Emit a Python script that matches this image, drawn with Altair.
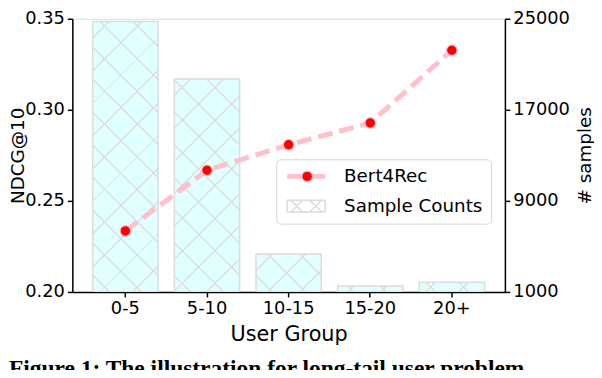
import altair as alt
import pandas as pd

groups = ["0-5", "5-10", "10-15", "15-20", "20+"]
ndcg = [0.2335, 0.2668, 0.2808, 0.2928, 0.3327]
counts = [24750, 19700, 4330, 1530, 1860]
series_names = ["Bert4Rec", "Sample Counts"]
left_ticks = [0.20, 0.25, 0.30, 0.35]
right_ticks = [1000, 9000, 17000, 25000]
count_domain = [1000, 25000]

df = pd.DataFrame({"group": groups, "ndcg": ndcg, "count": counts})

FONT = "DejaVu Sans"
LINE_PINK = "#ffc0cb"
BAR_FILL = "#e0ffff"
BAR_EDGE = "#dcdcdc"
HATCH = "#dedede"

# ---- cross-hatch fills: gradients computed from each bar's own size ----
W = "bandwidth('x')"
H = f"((datum['count'] - {count_domain[0]}) / {count_domain[1] - count_domain[0]} * height)"
S = f"({W} + {H})"
Q = f"({W} * {W} + {H} * {H})"
PERIOD = 33
NLINES = 11


def hatch_expr(base, forward):
    stops = [f"{{offset: 0, color: '{base}'}}"]
    for j in range(NLINES):
        c = PERIOD / 2 + PERIOD * j
        lo = f"clamp({c - 1} / {S}, 0, 1)"
        hi = f"clamp({c + 1} / {S}, 0, 1)"
        stops += [
            f"{{offset: {lo}, color: '{base}'}}",
            f"{{offset: {lo}, color: '{HATCH}'}}",
            f"{{offset: {hi}, color: '{HATCH}'}}",
            f"{{offset: {hi}, color: '{base}'}}",
        ]
    stops.append(f"{{offset: 1, color: '{base}'}}")
    u = f"({W} * {S} / {Q})"
    v = f"({H} * {S} / {Q})"
    if forward:
        coords = f"x1: 0, y1: 0, x2: {u}, y2: {v}"
    else:
        coords = f"x1: 0, y1: 1, x2: {u}, y2: 1 - {v}"
    return "{gradient: 'linear', " + coords + ", stops: [" + ", ".join(stops) + "]}"


xenc = alt.X(
    "group:N",
    sort=groups,
    title="User Group",
    scale=alt.Scale(paddingInner=0.2, paddingOuter=0.25),
    axis=alt.Axis(
        labelAngle=0, tickSize=5, tickWidth=1.5, tickColor="black",
        domainColor="black", domainWidth=1.5, labelFont=FONT, labelFontSize=18,
        labelColor="black", labelPadding=3, titleFont=FONT, titleFontSize=21,
        titleFontWeight="normal", titleColor="black", titlePadding=6,
    ),
)

yright = alt.Y(
    "count:Q",
    scale=alt.Scale(domain=count_domain, nice=False, zero=False),
    axis=alt.Axis(
        orient="right", values=right_ticks, format="d", title="# samples",
        grid=False, tickSize=5, tickWidth=1.5, tickColor="black",
        domainColor="black", domainWidth=1.5, labelFont=FONT,
        labelFontSize=18, labelColor="black", labelPadding=3,
        titleFont=FONT, titleFontSize=18.5, titleFontWeight="normal",
        titleColor="black", titleAngle=270, titlePadding=25,
    ),
)

is_line = "datum.value === 'Bert4Rec'"
hatch_rect = ("M-3.2,-1H3.2V1H-3.2Z"
              "M-2.6,-1L-0.6,1M-0.6,-1L-2.6,1"
              "M0.6,-1L2.6,1M2.6,-1L0.6,1")

legend_a = alt.Legend(
    title=None, orient="none", legendX=206, legendY=142,
    values=series_names,
    labelFont=FONT, labelFontSize=18.5, labelColor="black", labelLimit=300,
    padding=8, rowPadding=10, fillColor="white", strokeColor="#d6d6d6",
    cornerRadius=4, symbolSize=144, symbolOffset=13, labelOffset=29,
    symbolType=alt.ExprRef(f"{is_line} ? 'M-3.2,0H3.2' : '{hatch_rect}'"),
    symbolFillColor=alt.ExprRef(f"{is_line} ? 'transparent' : '{BAR_FILL}'"),
    symbolStrokeWidth=alt.ExprRef(f"{is_line} ? 5 : 1.5"),
    symbolOpacity=1,
)

stroke_scale = alt.Scale(domain=series_names, range=[LINE_PINK, BAR_EDGE])

bars_under = (
    alt.Chart(df)
    .mark_bar(clip=True, fill=alt.ExprRef(hatch_expr(BAR_FILL, True)), strokeWidth=0)
    .encode(x=xenc, y=yright, y2=alt.datum(count_domain[0]))
)

bars_over = (
    alt.Chart(df)
    .transform_calculate(series="'Sample Counts'")
    .mark_bar(clip=True, fill=alt.ExprRef(hatch_expr("rgba(255,255,255,0)", False)))
    .encode(
        x=xenc,
        y=yright,
        y2=alt.datum(count_domain[0]),
        stroke=alt.Stroke("series:N", scale=stroke_scale, legend=legend_a),
        strokeWidth=alt.value(1.5),
    )
)

yleft = alt.Y(
    "ndcg:Q",
    scale=alt.Scale(domain=[0.20, 0.35], nice=False, zero=False),
    axis=alt.Axis(
        orient="left", values=left_ticks, format=".2f", title="NDCG@10",
        grid=False, tickSize=5, tickWidth=1.5, tickColor="black",
        domainColor="black", domainWidth=1.5, labelFont=FONT,
        labelFontSize=18, labelColor="black", labelPadding=3,
        titleFont=FONT, titleFontSize=18.5, titleFontWeight="normal",
        titleColor="black", titlePadding=-3,
    ),
)

line = (
    alt.Chart(df)
    .transform_calculate(series="'Bert4Rec'")
    .mark_line()
    .encode(
        x=alt.X("group:N", sort=groups),
        y=yleft,
        stroke=alt.Stroke("series:N", scale=stroke_scale, legend=None),
        strokeWidth=alt.value(5),
        strokeDash=alt.value([15, 7]),
    )
)

points = (
    alt.Chart(df)
    .transform_calculate(series="'Bert4Rec'")
    .mark_point(filled=True, size=115, stroke=LINE_PINK, strokeWidth=1.2, opacity=1)
    .encode(
        x=alt.X("group:N", sort=groups),
        y=alt.Y("ndcg:Q"),
        fill=alt.Fill(
            "series:N",
            scale=alt.Scale(domain=["Bert4Rec"], range=["red"]),
            legend=alt.Legend(
                title=None, orient="none", legendX=206, legendY=142,
                labelFont=FONT, labelFontSize=18.5, labelExpr="''",
                padding=8, symbolType="circle", symbolSize=115,
                symbolStrokeColor=LINE_PINK, symbolStrokeWidth=1.2,
                symbolOpacity=1, symbolOffset=14, labelOffset=20,
            ),
        ),
    )
)

back = alt.layer(bars_under, bars_over)
front = alt.layer(line, points)

chart = (
    alt.layer(back, front)
    .resolve_scale(y="independent")
    .properties(
        width=437,
        height=276,
        autosize=alt.AutoSizeParams(type="none"),
        padding={"left": 65, "top": 9, "right": 90, "bottom": 77},
        title=alt.TitleParams(
            "Figure 1: The illustration for long-tail user problem.",
            orient="bottom", anchor="start", frame="bounds",
            font="Liberation Serif", fontSize=23.7, fontWeight="bold",
            color="black", offset=13,
        ),
    )
    .configure_view(stroke="black", strokeWidth=1.5)
    .configure(background="white")
)

chart.save("out.html", embed_options={"renderer": "svg", "actions": False})
